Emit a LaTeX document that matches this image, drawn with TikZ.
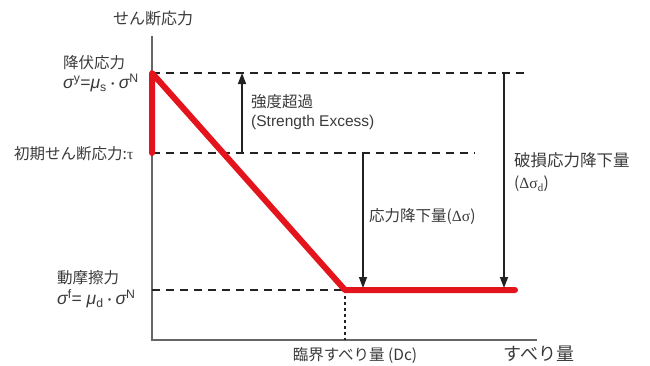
\documentclass[tikz,border=0pt]{standalone}
\usepackage{fontspec}
\setmainfont{Liberation Sans}
\newfontfamily\jp{Noto Sans CJK JP}
\newfontfamily\grk{Liberation Serif}
\usetikzlibrary{arrows.meta}
\definecolor{axisgray}{HTML}{666666}
\definecolor{dashgray}{HTML}{222222}
\definecolor{redline}{HTML}{E3141C}
\definecolor{txt}{HTML}{3A3A3A}
\newcommand{\sg}{{\itshape σ}}
\newcommand{\mmu}{{\itshape μ}}
\begin{document}
\begin{tikzpicture}[x=1pt,y=-1pt,
  axis/.style={draw=axisgray,line width=1.8pt},
  guide/.style={draw=dashgray,line width=1.5pt,dash pattern=on 8pt off 6pt},
  fine/.style={draw=dashgray,line width=1.2pt,dash pattern=on 3pt off 3pt},
  arr/.style={draw=dashgray,line width=1.5pt,-{Triangle[length=11pt,width=8pt]}},
  lbl/.style={font=\jp\fontsize{15.5}{18}\selectfont,text=txt,inner sep=0pt},
  eq/.style={font=\fontsize{17.5}{20}\selectfont},
  redl/.style={draw=redline,line width=6pt,line join=round}]
\useasboundingbox (0,0) rectangle (650,365);
% key coordinates
\coordinate (O) at (152,340);
\coordinate (Ytop) at (152,36);
\coordinate (Xend) at (537,340);
\coordinate (Y) at (152,73);
\coordinate (T) at (152,153);
\coordinate (F) at (152,290);
\coordinate (Dc) at (345,290);
\coordinate (Dcb) at (345,340);
\coordinate (R) at (515,290);
\coordinate (Yend) at (525,73);
\coordinate (Tend) at (475,153);
% axes
\draw[axis] (Ytop) -- (O) -- (Xend);
% dashed guides
\draw[guide] (Y) -- (Yend);
\draw[guide] (T) -- (Tend);
\draw[guide] (F) -- (Dc);
\draw[fine] (Dc) -- (Dcb);
% red curve
\draw[redl,line cap=round] (T) -- (Y) -- (Dc) -- (R);
% arrows
\coordinate (a1s) at (242,153); \coordinate (a1e) at (242,73);
\coordinate (a2s) at (363,153); \coordinate (a2e) at (363,288);
\coordinate (a3s) at (504,73);  \coordinate (a3e) at (504,288);
\draw[arr] (a1s) -- (a1e);
\draw[arr] (a2s) -- (a2e);
\draw[arr] (a3s) -- (a3e);
% labels
\node[lbl,font=\jp\fontsize{16}{18}\selectfont] (ylab) at (153,18) {せん断応力};
\node[lbl,anchor=west] (yield) at (63,63) {降伏応力};
\node[lbl,anchor=west,eq] (yieldeq) at (63,83) {\sg\textsuperscript{y}=\mmu\textsubscript{s}{\jp\fontsize{12}{14}\selectfont・}\sg\textsuperscript{N}};
\node[lbl,anchor=west] (tau) at (14,154) {初期せん断応力:{\grk τ}};
\node[lbl,anchor=west] (dyn) at (57,278) {動摩擦力};
\node[lbl,anchor=west,eq] (dyneq) at (57,299) {\sg\textsuperscript{f}= \mmu\textsubscript{d}{\jp\fontsize{12}{14}\selectfont・}\sg\textsuperscript{N}};
\node[lbl,anchor=west] (se1) at (251,102) {強度超過};
\node[lbl,anchor=west,font=\fontsize{15.5}{18}\selectfont] (se2) at (251,122) {(Strength Excess)};
\node[lbl,anchor=west] (dsig) at (369,216) {応力降下量({\grk Δσ})};
\node[lbl,anchor=west,font=\jp\fontsize{16.5}{18}\selectfont] (fd1) at (514,160) {破損応力降下量};
\node[lbl,anchor=west] (fd2) at (514,184) {({\grk Δσ\textsubscript{d}})};
\node[lbl] (dclab) at (355,355) {臨界すべり量 (Dc)};
\node[lbl,font=\jp\fontsize{18}{20}\selectfont] (xlab) at (539,354) {すべり量};
\end{tikzpicture}
\end{document}
